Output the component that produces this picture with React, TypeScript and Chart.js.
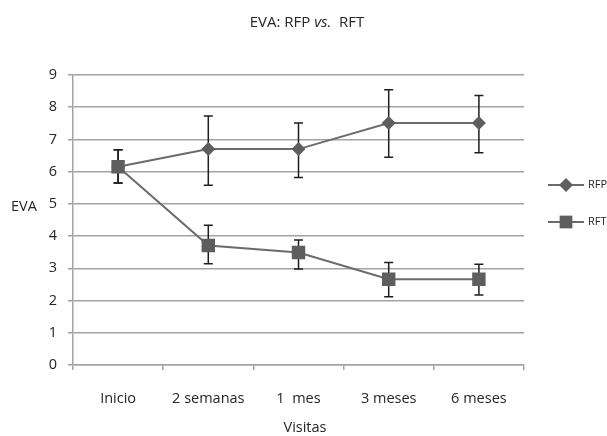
import React, { useEffect, useRef } from "react";
import { Chart, registerables } from "chart.js";

Chart.register(...registerables);

const categories = ["Inicio", "2 semanas", "1  mes", "3 meses", "6 meses"];
const rfpValues = [6.15, 6.7, 6.7, 7.51, 7.51];
const rfpLow = [5.65, 5.58, 5.82, 6.45, 6.59];
const rfpHigh = [6.68, 7.73, 7.51, 8.54, 8.36];
const rftValues = [6.15, 3.71, 3.49, 2.66, 2.66];
const rftLow = [5.65, 3.14, 2.98, 2.12, 2.17];
const rftHigh = [6.68, 4.34, 3.88, 3.18, 3.13];
const yTicks = [0, 1, 2, 3, 4, 5, 6, 7, 8, 9];

const FONT = "'Open Sans', sans-serif";
const LINE = "#6b6b6b";
const MARK = "#5e5e5e";
const GRID = "#a3a3a3";
const TEXT = "#262626";

const errorBars = {
  id: "errorBars",
  beforeDatasetsDraw(chart: any) {
    const { ctx } = chart;
    const x = chart.scales.x;
    const y = chart.scales.y;
    const sets = [
      [rfpLow, rfpHigh],
      [rftLow, rftHigh],
    ];
    ctx.save();
    ctx.strokeStyle = "#1e1e1e";
    ctx.lineWidth = 1.5;
    sets.forEach(([lo, hi]) => {
      lo.forEach((l: number, i: number) => {
        const px = x.getPixelForValue(i);
        const yl = y.getPixelForValue(l);
        const yh = y.getPixelForValue(hi[i]);
        ctx.beginPath();
        ctx.moveTo(px, yl);
        ctx.lineTo(px, yh);
        ctx.moveTo(px - 4.5, yl);
        ctx.lineTo(px + 4.5, yl);
        ctx.moveTo(px - 4.5, yh);
        ctx.lineTo(px + 4.5, yh);
        ctx.stroke();
      });
    });
    ctx.restore();
  },
};

const texts = {
  id: "texts",
  afterDraw(chart: any) {
    const { ctx } = chart;
    ctx.save();
    ctx.fillStyle = TEXT;
    ctx.textBaseline = "middle";
    // title
    const f1 = `15px ${FONT}`;
    const f2 = `italic 15px ${FONT}`;
    const parts: [string, string][] = [
      ["EVA: RFP ", f1],
      ["vs.", f2],
      ["  RFT", f1],
    ];
    let total = 0;
    parts.forEach(([t, f]) => {
      ctx.font = f;
      total += ctx.measureText(t).width;
    });
    let cx = 307 - total / 2;
    ctx.textAlign = "left";
    parts.forEach(([t, f]) => {
      ctx.font = f;
      ctx.fillText(t, cx, 23);
      cx += ctx.measureText(t).width;
    });
    // axis titles
    ctx.font = `14.5px ${FONT}`;
    ctx.textAlign = "center";
    ctx.fillText("Visitas", 305, 428);
    ctx.textAlign = "left";
    ctx.fillText("EVA", 11, 207);
    // legend
    const items = [
      { label: "RFP", style: "rectRot", r: 7, y: 185 },
      { label: "RFT", style: "rect", r: 9, y: 222 },
    ];
    items.forEach((it) => {
      ctx.strokeStyle = LINE;
      ctx.lineWidth = 2;
      ctx.beginPath();
      ctx.moveTo(548, it.y);
      ctx.lineTo(584, it.y);
      ctx.stroke();
      ctx.fillStyle = MARK;
      ctx.beginPath();
      if (it.style === "rectRot") {
        ctx.moveTo(566, it.y - it.r);
        ctx.lineTo(566 + it.r, it.y);
        ctx.lineTo(566, it.y + it.r);
        ctx.lineTo(566 - it.r, it.y);
        ctx.closePath();
      } else {
        const h = it.r * Math.SQRT1_2;
        ctx.rect(566 - h, it.y - h, 2 * h, 2 * h);
      }
      ctx.fill();
      ctx.fillStyle = TEXT;
      ctx.font = `11px ${FONT}`;
      ctx.fillText(it.label, 588, it.y);
    });
    ctx.restore();
  },
};

export default function App() {
  const ref = useRef<HTMLCanvasElement>(null);
  useEffect(() => {
    document.body.style.margin = "0";
    const chart = new Chart(ref.current!, {
      type: "line",
      data: {
        labels: categories,
        datasets: [
          {
            label: "RFP",
            data: rfpValues,
            borderColor: LINE,
            borderWidth: 2,
            pointStyle: "rectRot",
            pointRadius: 7,
            pointBackgroundColor: MARK,
            pointBorderColor: MARK,
            pointBorderWidth: 0,
          },
          {
            label: "RFT",
            data: rftValues,
            borderColor: LINE,
            borderWidth: 2,
            pointStyle: "rect",
            pointRadius: 9.5,
            pointBackgroundColor: MARK,
            pointBorderColor: MARK,
            pointBorderWidth: 0,
          },
        ],
      },
      options: {
        responsive: false,
        animation: false,
        layout: { padding: { left: 0, right: 83, top: 75, bottom: 0 } },
        plugins: {
          legend: { display: false },
          title: { display: false },
          tooltip: { enabled: false },
        },
        scales: {
          x: {
            offset: true,
            grid: {
              offset: true,
              drawOnChartArea: false,
              drawTicks: true,
              tickLength: 5,
              color: GRID,
              lineWidth: 1.5,
            },
            border: { color: GRID, width: 1.5 },
            ticks: {
              color: TEXT,
              font: { family: FONT, size: 14.5 },
              padding: 20,
              maxRotation: 0,
              autoSkip: false,
            },
            afterFit: (s: any) => {
              s.height = 71;
            },
          },
          y: {
            min: 0,
            max: 9,
            afterBuildTicks: (s: any) => {
              s.ticks = yTicks.map((v) => ({ value: v }));
            },
            grid: {
              color: GRID,
              lineWidth: 1.5,
              tickLength: 5,
            },
            border: { color: GRID, width: 1.5 },
            ticks: {
              color: TEXT,
              font: { family: FONT, size: 14.5 },
              padding: 11,
            },
            afterFit: (s: any) => {
              s.width = 73;
            },
          },
        },
      },
      plugins: [errorBars, texts],
    });
    return () => chart.destroy();
  }, []);
  return (
    <div style={{ width: 607, height: 436 }}>
      <canvas ref={ref} width={607} height={436} />
    </div>
  );
}
